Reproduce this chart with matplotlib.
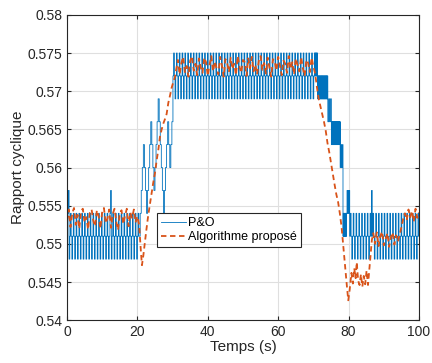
import numpy as np
import matplotlib
matplotlib.use('Agg')
import matplotlib.pyplot as plt

plt.rcParams['font.family'] = ['Liberation Sans', 'DejaVu Sans']

# P&O : segments de creneaux (debut, fin, motif de niveaux, pas de temps)
po_t0 = [0.0, 20.5, 30.1, 70.2, 71.2, 74.1, 75.1, 77.6, 78.4, 79.4, 80.3]
po_t1 = [20.5, 30.1, 70.2, 71.2, 74.1, 75.1, 77.6, 78.4, 79.4, 80.3, 100.0]
po_levels = [
    [0.551, 0.554, 0.551, 0.548],
    [0.551, 0.554, 0.557, 0.560, 0.563, 0.560, 0.557, 0.554, 0.557, 0.560, 0.563,
     0.566, 0.563, 0.560, 0.557, 0.560, 0.563, 0.566, 0.569, 0.566, 0.563, 0.560,
     0.557, 0.554, 0.557, 0.560, 0.563, 0.566, 0.563, 0.560, 0.563, 0.566],
    [0.572, 0.575, 0.572, 0.569],
    [0.572, 0.575],
    [0.569, 0.572],
    [0.566, 0.569],
    [0.563, 0.566],
    [0.560, 0.563],
    [0.551, 0.554],
    [0.554, 0.557],
    [0.551, 0.554, 0.551, 0.548],
]
po_dt = [0.2, 0.3, 0.2, 0.08, 0.08, 0.25, 0.08, 0.2, 0.08, 0.15, 0.2]
spike_t = [0.4, 12.5, 86.6]
spike_v = [0.557, 0.557, 0.557]

# Algorithme propose
ap_t = (list(np.arange(0, 20.01, 0.5)) +
        [20.5, 21.0, 21.3, 21.7, 22.2, 22.6, 23.1, 23.6, 24.0, 24.5, 25.0, 25.5,
         26.0, 26.4, 26.9, 27.4, 27.8, 28.3, 28.8, 29.3, 29.7, 30.2, 30.7] +
        list(np.arange(31.0, 70.51, 0.5)) +
        [71.0, 71.5, 72.0, 72.5, 73.0, 73.5, 74.0, 74.5, 75.0, 75.5, 76.0, 76.5,
         77.0, 77.5, 78.0, 78.5, 79.0, 79.5, 79.9, 80.3, 80.8, 81.2, 81.6, 82.0,
         82.3, 82.7, 83.1, 83.5, 83.9, 84.3, 84.7, 85.1, 85.5, 85.8, 86.2, 86.6, 87.0] +
        list(np.arange(87.5, 94.01, 0.5)) +
        [94.5, 95.0, 95.5, 96.0] +
        list(np.arange(96.5, 100.01, 0.5)))
ap_v = [0.5530, 0.5545, 0.5522, 0.5540, 0.5547, 0.5525, 0.5538, 0.5520, 0.5543, 0.5546,
        0.5528, 0.5535, 0.5519, 0.5541, 0.5545, 0.5530, 0.5523, 0.5544, 0.5536, 0.5520,
        0.5542, 0.5547, 0.5527, 0.5533, 0.5545, 0.5521, 0.5539, 0.5546, 0.5529, 0.5518,
        0.5540, 0.5544, 0.5526, 0.5537, 0.5546, 0.5523, 0.5541, 0.5534, 0.5545, 0.5528,
        0.5536,
        0.5525, 0.5490, 0.5472, 0.5485, 0.5505, 0.5520, 0.5538, 0.5553, 0.5565, 0.5580,
        0.5593, 0.5610, 0.5625, 0.5640, 0.5650, 0.5658, 0.5663, 0.5670, 0.5685, 0.5695,
        0.5704, 0.5712, 0.5719,
        0.5728, 0.5741, 0.5722, 0.5737, 0.5745, 0.5725, 0.5733, 0.5719, 0.5740, 0.5746,
        0.5727, 0.5736, 0.5721, 0.5743, 0.5731, 0.5724, 0.5744, 0.5738, 0.5720, 0.5735,
        0.5746, 0.5726, 0.5739, 0.5730, 0.5722, 0.5745, 0.5734, 0.5719, 0.5742, 0.5737,
        0.5725, 0.5744, 0.5729, 0.5736, 0.5721, 0.5746, 0.5732, 0.5724, 0.5741, 0.5738,
        0.5720, 0.5743, 0.5730, 0.5745, 0.5726, 0.5735, 0.5722, 0.5740, 0.5746, 0.5728,
        0.5737, 0.5723, 0.5744, 0.5731, 0.5719, 0.5742, 0.5739, 0.5727, 0.5745, 0.5733,
        0.5721, 0.5740, 0.5736, 0.5724, 0.5746, 0.5729, 0.5738, 0.5722, 0.5743, 0.5734,
        0.5726, 0.5745, 0.5730, 0.5720, 0.5741, 0.5737, 0.5725, 0.5744, 0.5732, 0.5723,
        0.5705, 0.5690, 0.5680, 0.5670, 0.5660, 0.5648, 0.5632, 0.5620, 0.5606, 0.5592,
        0.5578, 0.5565, 0.5555, 0.5540, 0.5522, 0.5496, 0.5470, 0.5445, 0.5426, 0.5440,
        0.5462, 0.5448, 0.5468, 0.5455, 0.5476, 0.5452, 0.5446, 0.5460, 0.5444, 0.5458,
        0.5447, 0.5465, 0.5446, 0.5462, 0.5485, 0.5505, 0.5514,
        0.5500, 0.5515, 0.5497, 0.5510, 0.5516, 0.5498, 0.5506, 0.5514, 0.5496, 0.5509,
        0.5515, 0.5499, 0.5511, 0.5503,
        0.5512, 0.5522, 0.5533, 0.5540,
        0.5531, 0.5545, 0.5535, 0.5543, 0.5529, 0.5546, 0.5534, 0.5541]

xticks = [0, 20, 40, 60, 80, 100]
yticks = [0.54, 0.545, 0.55, 0.555, 0.56, 0.565, 0.57, 0.575, 0.58]
ylabels = ['0.54', '0.545', '0.55', '0.555', '0.56', '0.565', '0.57', '0.575', '0.58']

# construction du signal P&O
t_po = []
v_po = []
for t0, t1, lv, dt in zip(po_t0, po_t1, po_levels, po_dt):
    tt = np.arange(t0, t1 - 1e-9, dt)
    vv = np.resize(np.array(lv), len(tt))
    t_po.extend(tt)
    v_po.extend(vv)
t_po = np.array(t_po)
v_po = np.array(v_po)
for ts, vs in zip(spike_t, spike_v):
    i = np.argmin(np.abs(t_po - ts))
    v_po[i] = vs
t_po = np.append(t_po, 100.0)
v_po = np.append(v_po, v_po[-1])

fig = plt.figure(figsize=(4.32, 3.63), dpi=100)
ax = fig.add_axes([0.155, 0.118, 0.815, 0.841])

ax.step(t_po, v_po, where='post', color='#0072BD', lw=0.6, label='P&O')
ax.plot(ap_t, ap_v, '--', color='#D95319', lw=1.3, dashes=(3, 2),
        label='Algorithme proposé')

ax.set_xlim(0, 100)
ax.set_ylim(0.54, 0.58)
ax.set_xticks(xticks)
ax.set_yticks(yticks)
ax.set_yticklabels(ylabels)
ax.grid(True, color='#dfdfdf', lw=0.8)
ax.set_axisbelow(True)
ax.tick_params(direction='in', top=True, right=True, labelsize=10,
               colors='#262626', length=3)
for s in ax.spines.values():
    s.set_color('#262626')
    s.set_linewidth(0.8)
ax.set_xlabel('Temps (s)', fontsize=11, color='#262626', labelpad=1)
ax.set_ylabel('Rapport cyclique', fontsize=11, color='#262626', labelpad=2)

leg = ax.legend(loc='lower left', bbox_to_anchor=(0.256, 0.239), fontsize=9,
                fancybox=False, framealpha=1, edgecolor='#262626',
                borderpad=0.3, handlelength=2.0, handletextpad=0.2,
                labelspacing=0.2, borderaxespad=0)
leg.get_frame().set_linewidth(0.8)

fig.savefig('out.png', dpi=100)
